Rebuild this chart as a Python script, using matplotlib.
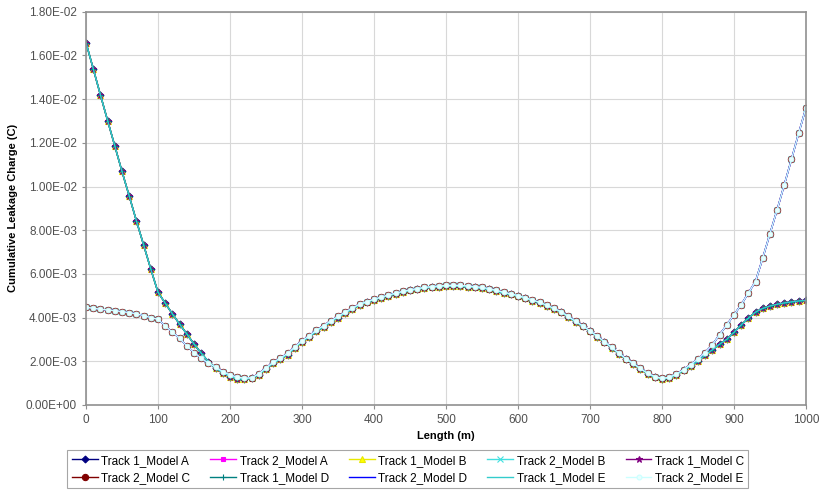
import matplotlib
matplotlib.use('Agg')
import matplotlib.pyplot as plt
from matplotlib.ticker import FuncFormatter, MultipleLocator

plt.rcParams['font.family'] = ['Liberation Sans', 'DejaVu Sans']

# Length along the line (m)
length = list(range(0, 1001, 10))

# Track 1 curves (start high, end low)
track1_charge = [
    0.01659, 0.01540, 0.01420, 0.01302, 0.01186, 0.01069, 0.00957, 0.00843, 0.00733, 0.00622,
    0.00516, 0.00466, 0.00417, 0.00370, 0.00325, 0.00279, 0.00237, 0.00198, 0.00168, 0.00148,
    0.00130, 0.00120, 0.00118, 0.00122, 0.00138, 0.00165, 0.00190, 0.00210, 0.00230, 0.00260,
    0.00290, 0.00310, 0.00337, 0.00358, 0.00380, 0.00400, 0.00420, 0.00440, 0.00458, 0.00470,
    0.00481, 0.00491, 0.00500, 0.00509, 0.00517, 0.00524, 0.00530, 0.00535, 0.00539, 0.00542,
    0.00543, 0.00544, 0.00543, 0.00541, 0.00538, 0.00534, 0.00529, 0.00521, 0.00512, 0.00506,
    0.00498, 0.00488, 0.00478, 0.00468, 0.00455, 0.00440, 0.00425, 0.00402, 0.00380, 0.00360,
    0.00338, 0.00312, 0.00288, 0.00262, 0.00235, 0.00210, 0.00188, 0.00165, 0.00142, 0.00126,
    0.00120, 0.00122, 0.00138, 0.00158, 0.00178, 0.00200, 0.00228, 0.00252, 0.00278, 0.00300,
    0.00332, 0.00366, 0.00397, 0.00425, 0.00442, 0.00453, 0.00461, 0.00467, 0.00472, 0.00476,
    0.00479,
]

# Track 2 curves (start low, end high)
track2_charge = [
    0.00447, 0.00443, 0.00438, 0.00435, 0.00432, 0.00427, 0.00423, 0.00417, 0.00409, 0.00400,
    0.00392, 0.00362, 0.00333, 0.00305, 0.00270, 0.00240, 0.00215, 0.00191, 0.00173, 0.00153,
    0.00137, 0.00128, 0.00122, 0.00125, 0.00142, 0.00170, 0.00195, 0.00215, 0.00236, 0.00265,
    0.00294, 0.00316, 0.00342, 0.00363, 0.00385, 0.00405, 0.00425, 0.00444, 0.00461, 0.00473,
    0.00484, 0.00494, 0.00503, 0.00512, 0.00520, 0.00527, 0.00533, 0.00538, 0.00542, 0.00545,
    0.00547, 0.00548, 0.00547, 0.00545, 0.00542, 0.00538, 0.00533, 0.00525, 0.00516, 0.00509,
    0.00501, 0.00491, 0.00481, 0.00470, 0.00457, 0.00442, 0.00427, 0.00405, 0.00383, 0.00362,
    0.00340, 0.00315, 0.00290, 0.00264, 0.00238, 0.00212, 0.00190, 0.00167, 0.00145, 0.00130,
    0.00122, 0.00126, 0.00142, 0.00162, 0.00185, 0.00210, 0.00240, 0.00275, 0.00321, 0.00366,
    0.00412, 0.00458, 0.00512, 0.00565, 0.00672, 0.00783, 0.00893, 0.01008, 0.01125, 0.01244,
    0.01359,
]

series_names = [
    'Track 1_Model A', 'Track 2_Model A', 'Track 1_Model B', 'Track 2_Model B', 'Track 1_Model C',
    'Track 2_Model C', 'Track 1_Model D', 'Track 2_Model D', 'Track 1_Model E', 'Track 2_Model E',
]

# colour, marker, marker face, marker size
estilos = [
    ('#000080', 'D', '#000080', 3.5),
    ('#FF00FF', 's', '#FF00FF', 3.5),
    ('#E8E800', '^', '#FFFF00', 4),
    ('#40E0E0', 'x', '#40E0E0', 4),
    ('#800080', '*', '#800080', 5),
    ('#800000', 'o', '#800000', 4.5),
    ('#008080', '+', '#008080', 5),
    ('#0000FF', '', '#0000FF', 0),
    ('#33CCCC', '', '#33CCCC', 0),
    ('#CCFFFF', 'o', '#E8FFFF', 3.5),
]

fig = plt.figure(figsize=(8.19, 4.92), dpi=100)
ax = fig.add_axes([0.105, 0.177, 0.879, 0.799])

linhas = []
for nome, (cor, marcador, face, tamanho) in zip(series_names, estilos):
    y = track1_charge if nome.startswith('Track 1') else track2_charge
    l, = ax.plot(length, y, color=cor, linewidth=1.0, marker=marcador or None,
                 markersize=tamanho, markerfacecolor=face, markeredgecolor=cor,
                 markeredgewidth=0.8, label=nome)
    linhas.append(l)

ax.set_xlim(0, 1000)
ax.set_ylim(0, 0.018)
ax.xaxis.set_major_locator(MultipleLocator(100))
ax.yaxis.set_major_locator(MultipleLocator(0.002))
ax.yaxis.set_major_formatter(FuncFormatter(lambda v, p: f'{v:.2E}'))
ax.grid(True, color='#d8d8d8', linewidth=0.8)
ax.set_axisbelow(True)
for lado in ax.spines.values():
    lado.set_color('#909090')
    lado.set_linewidth(1.2)
ax.tick_params(labelsize=8.5, colors='#505050', length=3, color='#909090')

ax.set_xlabel('Length (m)', fontsize=8, fontweight='bold', labelpad=4)
ax.set_ylabel('Cumulative Leakage Charge (C)', fontsize=8, fontweight='bold', labelpad=6)

# legend filled row by row like the original
ordem = [0, 5, 1, 6, 2, 7, 3, 8, 4, 9]
leg = fig.legend([linhas[i] for i in ordem], [series_names[i] for i in ordem],
                 loc='lower center', bbox_to_anchor=(0.498, -0.004), ncol=5, fontsize=8.5,
                 frameon=True, fancybox=False, edgecolor='#909090', handlelength=2.2,
                 columnspacing=1.7, handletextpad=0.3, borderpad=0.35, labelspacing=0.45)
leg.get_frame().set_linewidth(0.8)

fig.savefig('out.png', dpi=100)
